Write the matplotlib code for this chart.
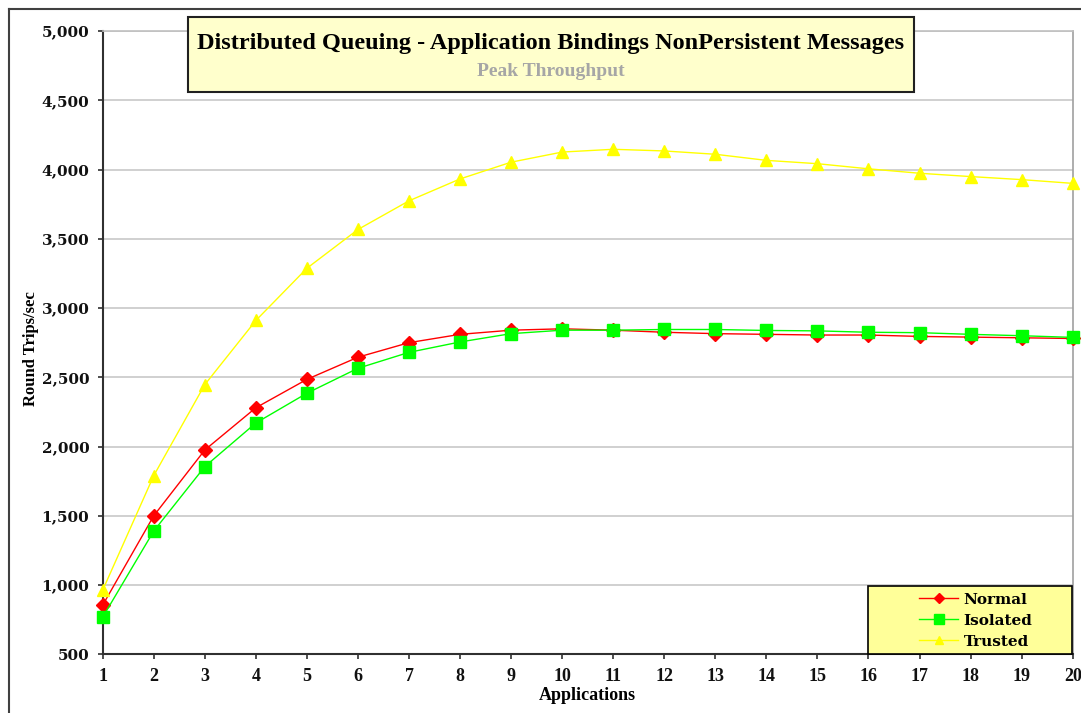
import matplotlib
matplotlib.use("Agg")
import matplotlib.pyplot as plt
from matplotlib.patches import Rectangle
from matplotlib.lines import Line2D
from matplotlib.ticker import FuncFormatter

# Peak throughput (round trips per second) by number of applications
applications = list(range(1, 21))
normal = [855, 1500, 1975, 2280, 2485, 2645, 2750, 2810, 2840, 2850,
          2840, 2825, 2815, 2810, 2805, 2805, 2795, 2790, 2785, 2780]
isolated = [768, 1390, 1855, 2170, 2385, 2565, 2680, 2755, 2815, 2840,
            2840, 2845, 2845, 2838, 2835, 2825, 2822, 2810, 2800, 2788]
trusted = [963, 1790, 2447, 2910, 3287, 3567, 3774, 3932, 4053, 4126,
           4146, 4134, 4110, 4066, 4042, 4005, 3973, 3949, 3927, 3900]

series_names = ["Normal", "Isolated", "Trusted"]
y_ticks = list(range(500, 5001, 500))

title = "Distributed Queuing - Application Bindings NonPersistent Messages"
subtitle = "Peak Throughput"
x_label = "Applications"
y_label = "Round Trips/sec"

W, H = 1081, 713
fig = plt.figure(figsize=(W / 100, H / 100), dpi=100)
fig.patch.set_facecolor("white")


def fx(px):
    return px / W


def fy(py):
    return 1 - py / H


serif = "Liberation Serif"
wide_serif = "DejaVu Serif"

ax = fig.add_axes([fx(102.7), fy(654.3), fx(1072.7) - fx(102.7), fy(31) - fy(654.3)])
ax.set_facecolor("white")

ax.plot(applications, normal, color="#FF0000", marker="D", ms=7, lw=1.0,
        mec="#FF0000", label=series_names[0], clip_on=False, zorder=3)
ax.plot(applications, isolated, color="#00FF00", marker="s", ms=9, lw=1.0,
        mec="#00FF00", label=series_names[1], clip_on=False, zorder=3)
ax.plot(applications, trusted, color="#FFFF00", marker="^", ms=8.5, lw=1.0,
        mec="#FFFF00", label=series_names[2], clip_on=False, zorder=3)

ax.set_xlim(1, 20)
ax.set_ylim(500, 5000)
ax.set_xticks(applications)
ax.set_yticks(y_ticks)
ax.yaxis.set_major_formatter(FuncFormatter(lambda v, p: f"{int(v):,}"))
ax.grid(axis="y", color="#c8c8c8", lw=1.2)
ax.set_axisbelow(True)

for side in ("left", "bottom"):
    ax.spines[side].set_color("#303030")
    ax.spines[side].set_linewidth(1.5)
ax.spines["top"].set_color("#c0c0c0")
ax.spines["top"].set_linewidth(1.2)
ax.spines["right"].set_color("#a0a0a0")
ax.spines["right"].set_linewidth(1.2)

ax.tick_params(axis="both", direction="out", length=3.6, width=1.2, color="#303030")
ax.tick_params(axis="y", pad=6)
ax.tick_params(axis="x", pad=6)
for lab in ax.get_yticklabels():
    lab.set_fontfamily(wide_serif)
    lab.set_fontweight("bold")
    lab.set_fontsize(11)
    lab.set_color("#111111")
for lab in ax.get_xticklabels():
    lab.set_fontfamily(serif)
    lab.set_fontweight("bold")
    lab.set_fontsize(13)
    lab.set_color("#111111")

ax.set_ylabel(y_label, fontfamily=serif, fontweight="bold", fontsize=12)
ax.yaxis.set_label_coords(-0.066, 0.49)
fig.text(fx(587.7), fy(695), x_label, ha="center", va="center",
         fontfamily=serif, fontweight="bold", fontsize=13)

# legend panel
ax.add_patch(Rectangle((fx(868.3), fy(654.3)), fx(1072.3) - fx(868.3), fy(586) - fy(654.3),
                       transform=fig.transFigure, facecolor="#FFFF99", edgecolor="black",
                       lw=1.2, clip_on=False, zorder=4))
leg = ax.legend(loc="center left", bbox_to_anchor=(fx(918.7), fy(620.7)),
                bbox_transform=fig.transFigure, frameon=False, borderpad=0,
                borderaxespad=0, handlelength=2.6, handletextpad=0.35,
                labelspacing=0.45, markerscale=0.75,
                prop={"family": wide_serif, "weight": "bold", "size": 11})
leg.set_zorder(5)

# title panel
fig.add_artist(Rectangle((fx(187.7), fy(91.7)), fx(914) - fx(187.7), fy(16.7) - fy(91.7),
                         transform=fig.transFigure, facecolor="#FFFFCC",
                         edgecolor="#202020", lw=1.5, zorder=3))
fig.text(fx(550.9), fy(43), title, ha="center", va="center", fontfamily=serif,
         fontweight="bold", fontsize=17.5, color="black", zorder=4)
fig.text(fx(550.9), fy(72), subtitle, ha="center", va="center", fontfamily=serif,
         fontweight="bold", fontsize=14, color="#a6a6a6", zorder=4)

# outer chart frame
fig.add_artist(Line2D([fx(8.5), fx(8.5)], [fy(9), 0], color="#404040", lw=1.5,
                      transform=fig.transFigure))
fig.add_artist(Line2D([fx(8.5), 1], [fy(9), fy(9)], color="#404040", lw=1.5,
                      transform=fig.transFigure))

fig.savefig("out.png", dpi=100)
